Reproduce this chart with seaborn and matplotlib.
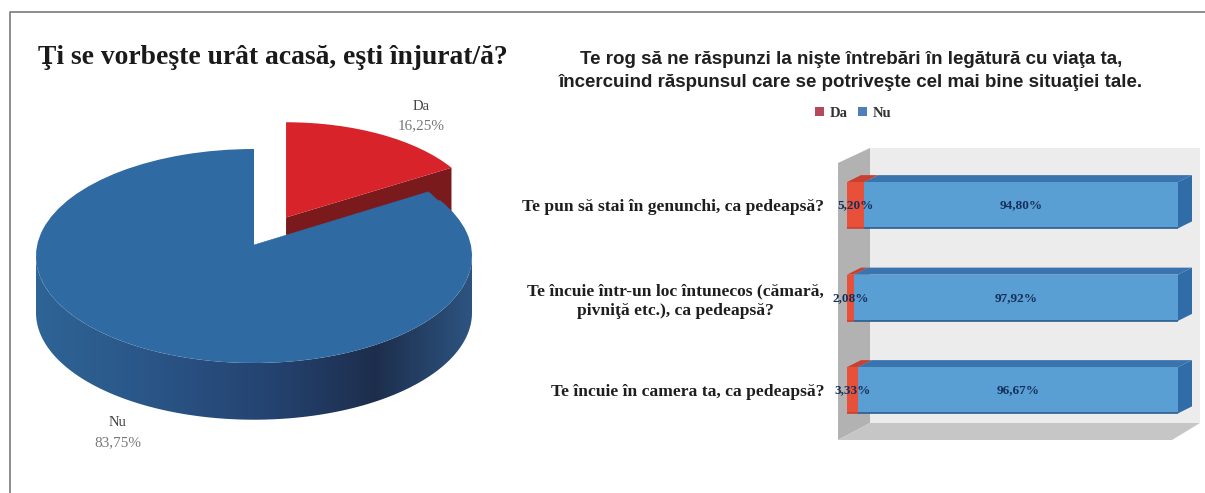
import matplotlib
matplotlib.use("Agg")
import matplotlib.pyplot as plt
import seaborn as sns
import numpy as np
from matplotlib.patches import Polygon

# date grafic plăcintă
pie_labels = ["Da", "Nu"]
pie_values = [16.25, 83.75]
pie_text = ["16,25%", "83,75%"]

# date grafic bare
questions = [
    "Te pun să stai în genunchi, ca pedeapsă?",
    "Te încuie într-un loc întunecos (cămară,\npivniţă etc.), ca pedeapsă?",
    "Te încuie în camera ta, ca pedeapsă?",
]
da_values = [5.20, 2.08, 3.33]
nu_values = [94.80, 97.92, 96.67]
da_text = ["5,20%", "2,08%", "3,33%"]
nu_text = ["94,80%", "97,92%", "96,67%"]

title_left = "Ţi se vorbeşte urât acasă, eşti înjurat/ă?"
title_right = ("Te rog să ne răspunzi la nişte întrebări în legătură cu viaţa ta,\n"
               "încercuind răspunsul care se potriveşte cel mai bine situaţiei tale.")

W, H = 1205, 493
sns.set_theme(style="white")
plt.rcParams['font.family'] = ['Liberation Serif', 'DejaVu Serif']

fig = plt.figure(figsize=(W / 100, H / 100), dpi=100, facecolor="white")


def px_axes(x0, y0, x1, y1):
    return fig.add_axes([x0 / W, 1 - y1 / H, (x1 - x0) / W, (y1 - y0) / H])


# fundal in pixeli: chenar, pereti, titluri
bg = px_axes(0, 0, W, H)
bg.set_xlim(0, W)
bg.set_ylim(H, 0)
bg.axis("off")
bg.plot([9.5, 9.5, W], [H, 11.5, 11.5], color="#858585", lw=1.3)
bg.add_patch(Polygon([(870, 148), (1200, 148), (1200, 423), (870, 423)], fc="#ececec", ec="none"))
bg.add_patch(Polygon([(838, 163), (870, 148), (870, 423), (838, 440)], fc="#b2b2b2", ec="none"))
bg.add_patch(Polygon([(838, 440), (870, 423), (1200, 423), (1172, 440)], fc="#c6c6c6", ec="none"))
bg.text(273, 58, title_left, ha="center", va="center", fontsize=19.9, fontweight="bold", color="#1a1a1a")
bg.text(851, 71, title_right, ha="center", va="center", fontsize=13.5, fontweight="bold",
        family="Liberation Sans", color="#202020", linespacing=1.5)
bg.text(421, 107, pie_labels[0], ha="center", va="center", fontsize=10.5, color="#444444")
bg.text(421, 126, pie_text[0], ha="center", va="center", fontsize=11, color="#777777")
bg.text(118, 423, pie_labels[1], ha="center", va="center", fontsize=10.5, color="#444444")
bg.text(118, 443, pie_text[1], ha="center", va="center", fontsize=11, color="#777777")

# placinta: raza 1 = 218 x 107 pixeli, centrul la (254, 256)
RX, RY, CX, CY = 218, 107, 254, 256
pie_ax = px_axes(CX - 1.2 * RX, CY - 1.4 * RY, CX + 1.2 * RX, CY + 1.8 * RY)
wedges, _ = pie_ax.pie(pie_values, colors=["#d9232a", "#2f6aa3"], startangle=90,
                       counterclock=False, radius=1, frame=False,
                       wedgeprops={"linewidth": 0, "edgecolor": "none"})
pie_ax.set_aspect("auto")
pie_ax.patch.set_visible(False)

# felia rosie e scoasa in afara si putin mai mica
red, blue = wedges
red_cx, red_cy, red_r = 0.147, 0.36, 0.89
red.set_center((red_cx, red_cy))
red.set_radius(red_r)
red.set_zorder(3)
blue.set_zorder(4)
cut = np.radians(90 - 360 * pie_values[0] / 100)
depth_red, depth_blue = 0.42, 0.53
tip = (red_cx + red_r * np.cos(cut), red_cy + red_r * np.sin(cut))
pie_ax.add_patch(Polygon([(red_cx, red_cy), tip, (tip[0], tip[1] - depth_red),
                          (red_cx, red_cy - depth_red)], fc="#7a1a1c", ec="none", zorder=2))

# perspectiva: varful feliei albastre e putin mai sus decat centrul elipsei
lift, tip_angle = 0.103, np.arctan2(0.6, 0.8)
pie_ax.add_patch(Polygon([(0, -0.02), (0, lift), (np.cos(tip_angle), np.sin(tip_angle)),
                          (np.cos(cut), np.sin(cut) - 0.02)], fc="#2f6aa3", ec="#2f6aa3", lw=0.4, zorder=4))

# peretele lateral al feliei albastre, cu degrade
theta = np.linspace(np.pi, 2 * np.pi, 200)
side_xy = np.vstack([np.c_[np.cos(theta), np.sin(theta)],
                     np.c_[np.cos(theta[::-1]), np.sin(theta[::-1]) - depth_blue]])
side = Polygon(side_xy, fc="none", ec="none", zorder=3)
pie_ax.add_patch(side)
grad = matplotlib.colors.LinearSegmentedColormap.from_list(
    "side", [(0, "#2f6496"), (0.25, "#2a5688"), (0.55, "#24426f"), (0.78, "#1d2e4c"), (1, "#2d5480")])
img = pie_ax.imshow(np.linspace(0, 1, 256)[None, :], cmap=grad, extent=(-1, 1, -1.6, 0.1),
                    aspect="auto", zorder=3)
img.set_clip_path(side)
pie_ax.set_xlim(-1.2, 1.2)
pie_ax.set_ylim(-1.8, 1.4)

# barele stivuite
ax = px_axes(847, 159, 1178, 436.5)
ax.patch.set_visible(False)
sns.barplot(x=da_values, y=questions, orient="h", color="#e8503a", width=0.5, saturation=1,
            label="Da", ax=ax, linewidth=0)
sns.barplot(x=nu_values, y=questions, orient="h", color="#5a9fd4", width=0.5, saturation=1,
            left=da_values, label="Nu", ax=ax, linewidth=0)
ax.set_xlim(0, 100)
ax.set_ylim(2.5, -0.5)
sns.despine(ax=ax, left=True, bottom=True, right=True, top=True)
ax.set_xticks([])
ax.tick_params(axis="y", length=0, pad=16.5)
ax.set_xlabel("")
for lab in ax.get_yticklabels():
    lab.set_fontsize(12.6)
    lab.set_fontweight("bold")
    lab.set_color("#1e1e1e")
    lab.set_multialignment("center")
    lab.set_linespacing(1.3)

# fete 3D calculate din barele desenate
dx, dy = 14 / 331 * 100, 7 / 92.5
n = len(questions)
for i, p in enumerate(list(ax.patches)):
    x0, w = p.get_x(), p.get_width()
    ytop, h = p.get_y(), p.get_height()
    is_da = i < n
    top_col = "#c8402f" if is_da else "#3a74ae"
    ax.add_patch(Polygon([(x0, ytop), (x0 + dx, ytop - dy), (x0 + w + dx, ytop - dy), (x0 + w, ytop)],
                         fc=top_col, ec="none", clip_on=False, zorder=p.get_zorder() - 0.1 + (0 if is_da else 0.05)))
    ax.plot([x0, x0 + w], [ytop + h, ytop + h], color="#c8402f" if is_da else "#2c5c8c",
            lw=1.2, clip_on=False, solid_capstyle="butt")
    if not is_da:
        ax.add_patch(Polygon([(x0 + w, ytop), (x0 + w + dx, ytop - dy), (x0 + w + dx, ytop + h - dy),
                              (x0 + w, ytop + h)], fc="#2f6ca8", ec="none", clip_on=False))

for cont, labels in zip(ax.containers, [da_text, nu_text]):
    ax.bar_label(cont, labels=labels, label_type="center", fontsize=9.5, fontweight="bold", color="#14305a")

leg = ax.legend(loc="center", bbox_to_anchor=(853 / W, 1 - 113 / H), bbox_transform=fig.transFigure,
                ncol=2, frameon=False, handlelength=0.6, handleheight=0.6,
                handletextpad=0.4, columnspacing=0.7, prop={"weight": "bold", "size": 10.5})
for t in leg.get_texts():
    t.set_color("#333333")
leg.legend_handles[0].set_facecolor("#b5485a")
leg.legend_handles[1].set_facecolor("#4f7fb8")

fig.savefig("out.png", dpi=100, facecolor="white")
